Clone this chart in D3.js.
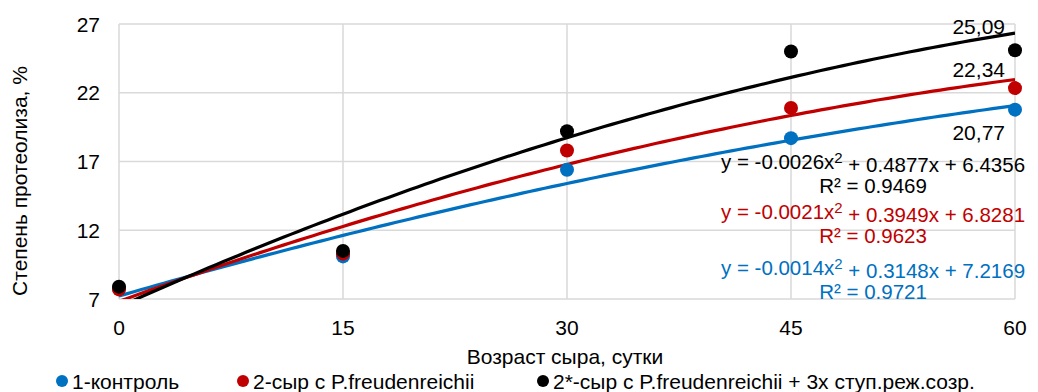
<!DOCTYPE html>
<html>
<head>
<meta charset="utf-8">
<script src="https://cdn.jsdelivr.net/npm/d3@7"></script>
<style>
  body { margin: 0; background: #fff; }
  svg { font-family: "Liberation Sans", Arial, sans-serif; }
</style>
</head>
<body>
<svg id="chart" width="1038" height="392"></svg>
<script>
// data
const days = [0, 15, 30, 45, 60];
const control = [7.8, 10.1, 16.4, 18.7, 20.77];
const freud = [7.7, 10.3, 17.8, 20.9, 22.34];
const stepped = [7.9, 10.5, 19.2, 25.0, 25.09];
const errBar = [0.25, 0.3, 0.25, 0.35, 0.3];

const seriesNames = ["1-контроль", "2-сыр с P.freudenreichii", "2*-сыр с P.freudenreichii + 3х ступ.реж.созр."];
const seriesColors = ["#0070c0", "#c00000", "#000000"];
const trendCoefs = [[-0.0014, 0.3148, 7.2169], [-0.0021, 0.3949, 6.8281], [-0.0026, 0.4877, 6.4356]];
const trendR2 = ["0.9721", "0.9623", "0.9469"];
const endLabels = ["20,77", "22,34", "25,09"];
const yTicks = [7, 12, 17, 22, 27];
const xTicks = [0, 15, 30, 45, 60];

const svg = d3.select("#chart");
const margin = {top: 24, right: 23, bottom: 93, left: 119};
const width = 1038 - margin.left - margin.right;
const height = 392 - margin.top - margin.bottom;
const fs = 21;

const x = d3.scaleLinear().domain([0, 60]).range([0, width]);
const y = d3.scaleLinear().domain([7, 27]).range([height, 0]);

const g = svg.append("g").attr("transform", `translate(${margin.left},${margin.top})`);

svg.append("defs").append("clipPath").attr("id", "plotclip")
    .append("rect").attr("width", width).attr("height", height);

// grid
g.selectAll(".hgrid").data(yTicks).join("line")
    .attr("x1", 0).attr("x2", width)
    .attr("y1", d => y(d)).attr("y2", d => y(d))
    .attr("stroke", "#d9d9d9").attr("stroke-width", 1.5);
g.selectAll(".vgrid").data(xTicks).join("line")
    .attr("y1", 0).attr("y2", height)
    .attr("x1", d => x(d)).attr("x2", d => x(d))
    .attr("stroke", "#d9d9d9").attr("stroke-width", 1.5);

// tick labels
g.selectAll(".ytl").data(yTicks).join("text")
    .attr("x", -19).attr("y", d => y(d)).attr("dy", "0.36em")
    .attr("text-anchor", "end").attr("font-size", fs).text(d => d);
g.selectAll(".xtl").data(xTicks).join("text")
    .attr("x", d => x(d)).attr("y", height + 36)
    .attr("text-anchor", "middle").attr("font-size", fs).text(d => d);

// axis titles
svg.append("text")
    .attr("transform", `translate(27,${margin.top + 157}) rotate(-90)`)
    .attr("text-anchor", "middle").attr("font-size", fs)
    .text("Степень протеолиза, %");
svg.append("text")
    .attr("x", 565).attr("y", 364)
    .attr("text-anchor", "middle").attr("font-size", fs)
    .text("Возраст сыра, сутки");

const allSeries = [control, freud, stepped];

// trend lines
const plot = g.append("g").attr("clip-path", "url(#plotclip)");
const xs = d3.range(0, 60.01, 0.5);
const line = d3.line().x(d => x(d[0])).y(d => y(d[1]));
trendCoefs.forEach((c, i) => {
    plot.append("path")
        .datum(xs.map(t => [t, c[0] * t * t + c[1] * t + c[2]]))
        .attr("fill", "none").attr("stroke", seriesColors[i]).attr("stroke-width", 3.2)
        .attr("d", line);
});

// error bars + points
allSeries.forEach((vals, i) => {
    const pts = days.map((d, k) => ({d, v: vals[k], e: errBar[k]}));
    g.selectAll(`.err${i}`).data(pts).join("line")
        .attr("x1", p => x(p.d)).attr("x2", p => x(p.d))
        .attr("y1", p => y(p.v - p.e)).attr("y2", p => y(p.v + p.e))
        .attr("stroke", "#7f7f7f").attr("stroke-width", 1.5);
    g.selectAll(`.pt${i}`).data(pts).join("circle")
        .attr("cx", p => x(p.d)).attr("cy", p => y(p.v)).attr("r", 7)
        .attr("fill", seriesColors[i]);
});

// end value labels
const labOff = [23, -19, -24];
allSeries.forEach((vals, i) => {
    const v = vals[vals.length - 1];
    g.append("text")
        .attr("x", x(60) - 10).attr("y", y(v) + labOff[i]).attr("dy", "0.36em")
        .attr("text-anchor", "end").attr("font-size", fs).attr("fill", "#000")
        .text(endLabels[i]);
});

// equations
const fmt = v => (v < 0 ? "-" : "") + Math.abs(v).toFixed(4);
const eqY = [268, 212, 162];
trendCoefs.forEach((c, i) => {
    const t = svg.append("text")
        .attr("x", 873).attr("y", eqY[i]).attr("dy", "0.36em")
        .attr("text-anchor", "middle").attr("font-size", 20.5).attr("fill", seriesColors[i]);
    t.append("tspan").text(`y = ${fmt(c[0])}x`);
    t.append("tspan").attr("dy", "-0.4em").attr("font-size", 15).text("2");
    t.append("tspan").attr("dy", "0.4em").text(` + ${c[1].toFixed(4)}x + ${c[2].toFixed(4)}`);
    svg.append("text")
        .attr("x", 873).attr("y", eqY[i] + 24).attr("dy", "0.36em")
        .attr("text-anchor", "middle").attr("font-size", 20.5).attr("fill", seriesColors[i])
        .text(`R² = ${trendR2[i]}`);
});

// legend
const legX = [62, 243, 543];
seriesNames.forEach((n, i) => {
    svg.append("circle").attr("cx", legX[i]).attr("cy", 381).attr("r", 6).attr("fill", seriesColors[i]);
    svg.append("text").attr("x", legX[i] + 10).attr("y", 381).attr("dy", "0.36em")
        .attr("font-size", fs).text(n);
});
</script>
</body>
</html>
